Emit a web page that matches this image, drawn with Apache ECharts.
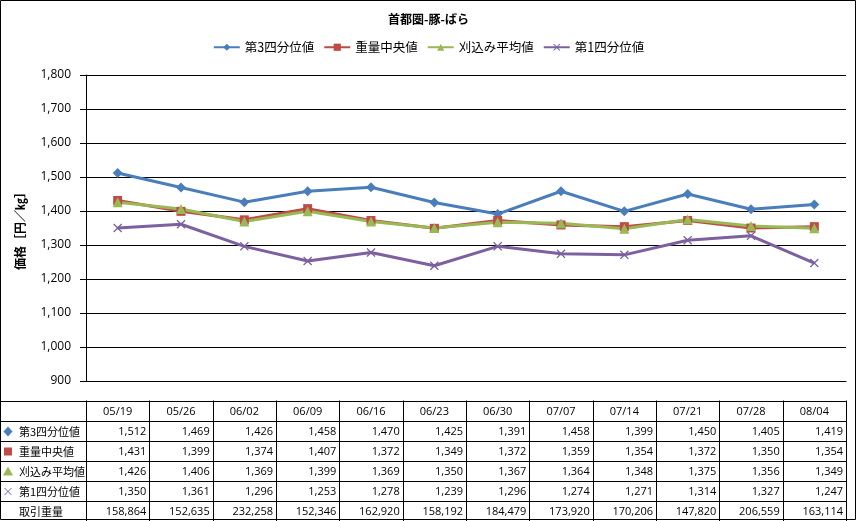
<!DOCTYPE html>
<html>
<head>
<meta charset="utf-8">
<script src="https://cdn.jsdelivr.net/npm/echarts@6/dist/echarts.min.js"></script>
<style>
  html, body { margin: 0; padding: 0; background: #fff; }
  #main { width: 857px; height: 521px; }
</style>
</head>
<body>
<div id="main"></div>
<script>
// 週ごとの価格（円/kg）
const weeks = ['05/19', '05/26', '06/02', '06/09', '06/16', '06/23', '06/30', '07/07', '07/14', '07/21', '07/28', '08/04'];
const q3 = [1512, 1469, 1426, 1458, 1470, 1425, 1391, 1458, 1399, 1450, 1405, 1419];
const median = [1431, 1399, 1374, 1407, 1372, 1349, 1372, 1359, 1354, 1372, 1350, 1354];
const trimmedMean = [1426, 1406, 1369, 1399, 1369, 1350, 1367, 1364, 1348, 1375, 1356, 1349];
const q1 = [1350, 1361, 1296, 1253, 1278, 1239, 1296, 1274, 1271, 1314, 1327, 1247];
const volume = [158864, 152635, 232258, 152346, 162920, 158192, 184479, 173920, 170206, 147820, 206559, 163114];
const yTicks = { min: 900, max: 1800, interval: 100 };

const JP = '"Noto Sans CJK JP", sans-serif';
const NUM = '"Open Sans", "Noto Sans", sans-serif';
const xPath = 'path://M0,1L1,0L5,4L9,0L10,1L6,5L10,9L9,10L5,6L1,10L0,9L4,5Z';

const seriesDefs = [
  { name: '第3四分位値', data: q3, color: '#4A7EBB', symbol: 'diamond', size: 10 },
  { name: '重量中央値', data: median, color: '#BE4B48', symbol: 'rect', size: 9 },
  { name: '刈込み平均値', data: trimmedMean, color: '#98B954', symbol: 'triangle', size: 10 },
  { name: '第1四分位値', data: q1, color: '#7D60A0', symbol: xPath, size: 9 }
];

const fmt = v => v.toLocaleString('en-US');

const myChart = echarts.init(document.getElementById('main'));

const option = {
  backgroundColor: '#fff',
  animation: false,
  title: {
    text: '首都圏-豚-ばら',
    left: 'center',
    top: 8,
    textStyle: { fontFamily: JP, fontSize: 12, fontWeight: 'bold', color: '#000' }
  },
  legend: {
    top: 36,
    left: 'center',
    itemWidth: 26,
    itemHeight: 9,
    itemGap: 9,
    textStyle: { fontFamily: JP, fontSize: 12.5, color: '#000' },
    data: seriesDefs.map(s => s.name)
  },
  grid: { left: 86, right: 11, top: 75, bottom: 140 },
  xAxis: {
    type: 'category',
    data: weeks,
    boundaryGap: true,
    axisLine: { lineStyle: { color: '#000', width: 1 } },
    axisTick: { show: false },
    axisLabel: { show: false },
    splitLine: { show: false }
  },
  yAxis: {
    type: 'value',
    min: yTicks.min,
    max: yTicks.max,
    interval: yTicks.interval,
    name: '価格［円／㎏］',
    nameLocation: 'middle',
    nameRotate: 90,
    nameGap: 60,
    nameTextStyle: { fontFamily: JP, fontSize: 12, fontWeight: 'bold', color: '#000' },
    axisLine: { show: true, lineStyle: { color: '#000', width: 1 } },
    axisTick: { show: true, length: 6, lineStyle: { color: '#000' } },
    axisLabel: {
      margin: 15,
      color: '#000',
      fontFamily: NUM,
      fontSize: 12,
      formatter: v => fmt(v)
    },
    splitLine: { lineStyle: { color: '#000', width: 1 } }
  },
  series: seriesDefs.map(s => ({
    name: s.name,
    type: 'line',
    data: s.data,
    symbol: s.symbol,
    symbolSize: s.size,
    lineStyle: { color: s.color, width: 3 },
    itemStyle: { color: s.color },
    emphasis: { disabled: true }
  }))
};

myChart.setOption(option);

// データテーブル（グラフ下）
const rowH = 20;
const tableTop = 400.5;
const centers = weeks.map((w, i) => myChart.convertToPixel({ xAxisIndex: 0 }, i));
const colW = centers.length > 1 ? centers[1] - centers[0] : 63;
const firstColR = centers[0] - colW / 2;
const tableR = centers[centers.length - 1] + colW / 2;

const rows = seriesDefs.map(s => ({ label: s.name, values: s.data, def: s }))
  .concat([{ label: '取引重量', values: volume, def: null }]);

const graphics = [];
const nRows = rows.length + 1;
for (let r = 0; r <= nRows; r++) {
  const y = Math.round(tableTop + r * rowH) + 0.5;
  graphics.push({ type: 'line', shape: { x1: 0, y1: y, x2: tableR, y2: y }, style: { stroke: '#000', lineWidth: 1 } });
}
const tableBottom = Math.round(tableTop + nRows * rowH) + 0.5;
const vLines = [firstColR].concat(centers.map(c => c + colW / 2));
vLines.forEach(x => {
  const xx = Math.round(x) + 0.5;
  graphics.push({ type: 'line', shape: { x1: xx, y1: tableTop, x2: xx, y2: tableBottom }, style: { stroke: '#000', lineWidth: 1 } });
});

weeks.forEach((w, i) => {
  graphics.push({
    type: 'text', x: centers[i], y: tableTop + rowH / 2 + 1,
    style: { text: w, font: '11px ' + NUM, fill: '#000', align: 'center', verticalAlign: 'middle' }
  });
});

rows.forEach((row, r) => {
  const cy = tableTop + (r + 1) * rowH + rowH / 2 + 1;
  graphics.push({
    type: 'text', x: 19, y: cy,
    style: { text: row.label, font: '11px ' + JP, fill: '#000', align: 'left', verticalAlign: 'middle' }
  });
  if (row.def) {
    let shapeEl;
    const s = row.def;
    if (s.symbol === 'diamond') {
      shapeEl = { type: 'polygon', shape: { points: [[8, cy - 5], [12.5, cy], [8, cy + 5], [3.5, cy]] }, style: { fill: s.color } };
    } else if (s.symbol === 'rect') {
      shapeEl = { type: 'rect', shape: { x: 4, y: cy - 4, width: 8, height: 8 }, style: { fill: s.color } };
    } else if (s.symbol === 'triangle') {
      shapeEl = { type: 'polygon', shape: { points: [[8, cy - 5], [13, cy + 4], [3, cy + 4]] }, style: { fill: s.color } };
    } else {
      shapeEl = { type: 'group', children: [
        { type: 'line', shape: { x1: 4.5, y1: cy - 3.5, x2: 11.5, y2: cy + 3.5 }, style: { stroke: s.color, lineWidth: 1 } },
        { type: 'line', shape: { x1: 11.5, y1: cy - 3.5, x2: 4.5, y2: cy + 3.5 }, style: { stroke: s.color, lineWidth: 1 } }
      ] };
    }
    graphics.push(shapeEl);
  }
  row.values.forEach((v, i) => {
    graphics.push({
      type: 'text', x: centers[i] + colW / 2 - 3, y: cy,
      style: { text: fmt(v), font: '11px ' + NUM, fill: '#000', align: 'right', verticalAlign: 'middle' }
    });
  });
});

// 外枠
graphics.push({ type: 'rect', shape: { x: 0.5, y: 0.5, width: 855, height: 519 }, style: { fill: 'none', stroke: '#000', lineWidth: 1 } });

myChart.setOption({ graphic: graphics });
</script>
</body>
</html>
